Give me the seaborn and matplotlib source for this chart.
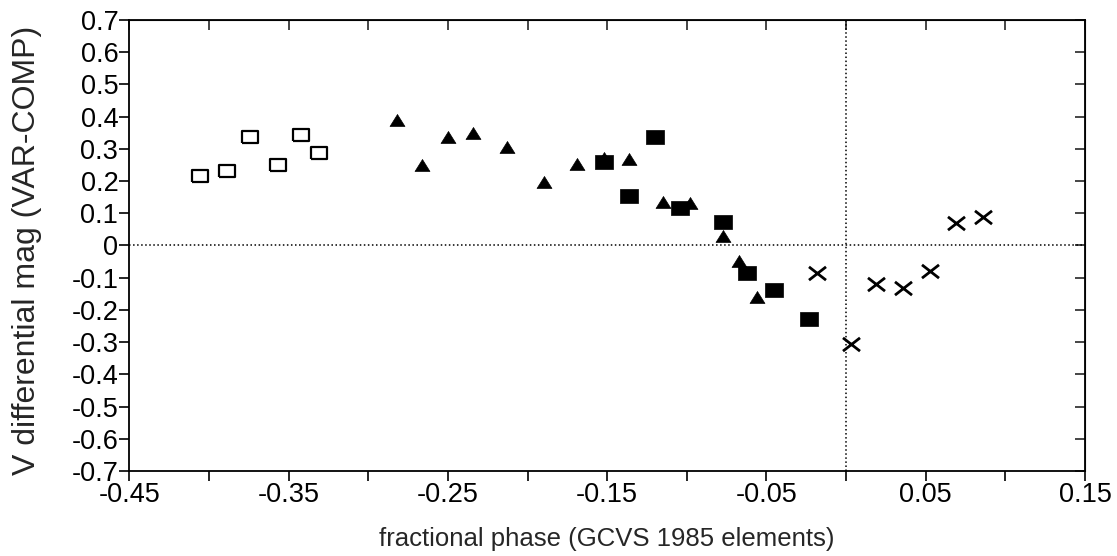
import numpy as np
import pandas as pd
import seaborn as sns
import matplotlib.pyplot as plt
from matplotlib.path import Path

# open squares
open_sq_phase = [-0.406, -0.389, -0.374, -0.357, -0.342, -0.331]
open_sq_mag = [0.217, 0.231, 0.338, 0.250, 0.344, 0.286]

# filled triangles
tri_phase = [-0.282, -0.266, -0.250, -0.234, -0.213, -0.190, -0.169, -0.152,
             -0.136, -0.115, -0.098, -0.077, -0.067, -0.056]
tri_mag = [0.388, 0.250, 0.338, 0.348, 0.307, 0.198, 0.252, 0.271,
           0.269, 0.134, 0.133, 0.030, -0.047, -0.159]

# filled squares
sq_phase = [-0.152, -0.136, -0.120, -0.104, -0.077, -0.062, -0.045, -0.023]
sq_mag = [0.258, 0.154, 0.336, 0.116, 0.072, -0.086, -0.138, -0.229]

# crosses
x_phase = [-0.018, 0.003, 0.019, 0.036, 0.053, 0.069, 0.086]
x_mag = [-0.086, -0.306, -0.120, -0.131, -0.079, 0.071, 0.088]

x_ticks = [-0.45, -0.40, -0.35, -0.30, -0.25, -0.20, -0.15, -0.10, -0.05, 0.0, 0.05, 0.10, 0.15]
x_tick_labels = ['-0.45', '', '-0.35', '', '-0.25', '', '-0.15', '', '-0.05', '', '0.05', '', '0.15']
y_ticks = [-0.7, -0.6, -0.5, -0.4, -0.3, -0.2, -0.1, 0.0, 0.1, 0.2, 0.3, 0.4, 0.5, 0.6, 0.7]
y_tick_labels = ['-0.7', '-0.6', '-0.5', '-0.4', '-0.3', '-0.2', '-0.1', '0',
                 '0.1', '0.2', '0.3', '0.4', '0.5', '0.6', '0.7']

sns.set_style("ticks")
plt.rcParams['font.family'] = ['Liberation Sans', 'DejaVu Sans']

# slightly wide marker shapes, like the scan
rect = [(-1, -0.78), (1, -0.78), (1, 0.78), (-1, 0.78), (-1, -0.78)]
tri = [(0, 0.8), (-1, -0.8), (1, -0.8), (0, 0.8)]
cross = Path([(-1, -0.78), (1, 0.78), (-1, 0.78), (1, -0.78)],
             [Path.MOVETO, Path.LINETO, Path.MOVETO, Path.LINETO])

fig = plt.figure(figsize=(11.17, 5.56), dpi=100)
ax = fig.add_axes([0.1159, 0.1529, 0.8554, 0.8112])

ax.axhline(0, color='black', ls=':', lw=1.1, zorder=1)
ax.axvline(0, color='black', ls=':', lw=1.1, zorder=1)

sns.scatterplot(x=open_sq_phase, y=open_sq_mag, marker=rect, s=125,
                facecolor='white', edgecolor='black', linewidth=1.6, ax=ax, zorder=3)
sns.scatterplot(x=tri_phase, y=tri_mag, marker=tri, s=115,
                color='black', edgecolor='black', linewidth=0.5, ax=ax, zorder=3)
sns.scatterplot(x=sq_phase, y=sq_mag, marker=rect, s=150,
                color='black', edgecolor='black', linewidth=0.5, ax=ax, zorder=4)
sns.scatterplot(x=x_phase, y=x_mag, marker=cross, s=150,
                color='black', edgecolor='black', linewidth=2.0, ax=ax, zorder=4)

ax.set_xlim(-0.45, 0.15)
ax.set_ylim(-0.7, 0.7)
ax.set_xticks(x_ticks)
ax.set_xticklabels(x_tick_labels)
ax.set_yticks(y_ticks)
ax.set_yticklabels(y_tick_labels)
ax.tick_params(axis='both', direction='out', length=7, width=1.2, labelsize=19.5,
               colors='black', pad=1)

for sp in ax.spines.values():
    sp.set_visible(True)
    sp.set_linewidth(1.3)
    sp.set_color('black')

# inward ticks on top and right
top = ax.secondary_xaxis('top')
top.set_xticks(x_ticks)
top.tick_params(direction='in', length=7, width=1.2, labeltop=False)
right = ax.secondary_yaxis('right')
right.set_yticks(y_ticks)
right.tick_params(direction='in', length=7, width=1.2, labelright=False)

ax.set_xlabel('fractional phase (GCVS 1985 elements)', fontsize=18.5)
ax.set_ylabel('V differential mag (VAR-COMP)', fontsize=23)
ax.xaxis.set_label_coords(0.5, -0.125)
ax.yaxis.set_label_coords(-0.092, 0.49)

fig.savefig('out.png', dpi=100)
